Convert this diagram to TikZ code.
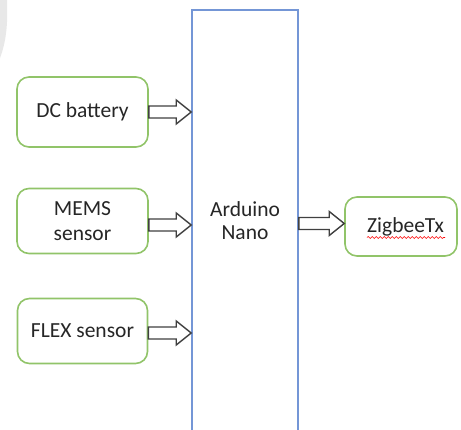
\documentclass[tikz,border=0pt]{standalone}
\usepackage{fontspec}
\setmainfont{Carlito}
\usetikzlibrary{calc,decorations.pathmorphing}
\definecolor{boxgreen}{RGB}{145,196,105}
\definecolor{boxblue}{RGB}{116,150,214}
\definecolor{txt}{RGB}{38,38,38}
\definecolor{arrowgray}{RGB}{64,64,64}
\tikzset{
  inbox/.style={draw=boxgreen, line width=1.6pt, rounded corners=12pt, fill=white,
    text=txt, align=center, inner sep=0pt, font=\fontsize{21.5}{25}\selectfont},
  mcubox/.style={draw=boxblue, line width=1.6pt, fill=white, text=txt, align=center,
    inner sep=0pt, font=\fontsize{21.5}{23}\selectfont},
  blockarrow/.style={draw=arrowgray, line width=1.4pt, fill=white, line join=miter,
    to path={let \p1=(\tikztostart), \p2=(\tikztotarget) in
      (\x1,{\y1+6pt}) -- ({\x2-15pt},{\y1+6pt}) -- ({\x2-15pt},{\y1+12pt}) -- (\x2,\y1)
      -- ({\x2-15pt},{\y1-12pt}) -- ({\x2-15pt},{\y1-6pt}) -- (\x1,{\y1-6pt}) -- cycle}},
}
\begin{document}
\begin{tikzpicture}[x=1pt,y=-1pt]
\useasboundingbox (0,0) rectangle (461,429);
\fill[white] (0,0) rectangle (461,429);
% faint grey artefact at the top-left corner
\fill[gray!18] (0,0) -- (7,0) .. controls (8,25) and (6,42) .. (0,58) -- cycle;

\node[mcubox, minimum width=106pt, minimum height=422pt] (mcu) at (245,221) {Arduino\\Nano};

\node[inbox, minimum width=131pt, minimum height=70pt] (dc) at (82.5,112) {DC battery};
\node[inbox, minimum width=131pt, minimum height=65pt] (mems) at (82.5,221) {MEMS\\sensor};
\node[inbox, minimum width=130pt, minimum height=65pt] (flex) at (82.5,331) {FLEX sensor};
\node[inbox, minimum width=112pt, minimum height=59pt] (zig) at (401,226.5) {\hspace*{9pt}ZigbeeTx};

\draw[red, line width=0.6pt, decorate, decoration={snake, amplitude=1pt, segment length=4pt}]
  ($(zig.center)+(-34,11)$) -- ($(zig.center)+(44,11)$);

\coordinate (s1) at (dc.east);
\coordinate (s2) at ([yshift=-4pt]mems.east);
\coordinate (s3) at ([yshift=-2pt]flex.east);
\coordinate (t4) at ([yshift=3pt]zig.west);

\path (s1) edge[blockarrow] (mcu.west |- s1);
\path (s2) edge[blockarrow] (mcu.west |- s2);
\path (s3) edge[blockarrow] (mcu.west |- s3);
\path (mcu.east |- t4) edge[blockarrow] (t4);
\end{tikzpicture}
\end{document}
